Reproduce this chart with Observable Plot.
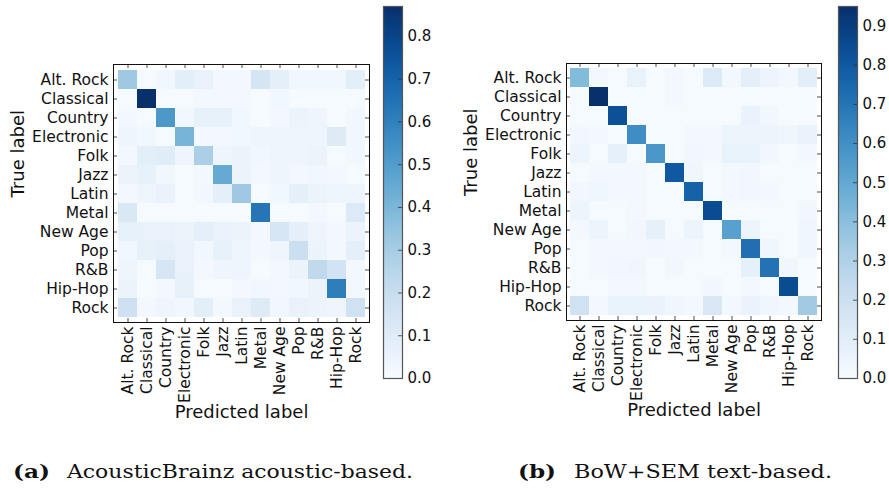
<!DOCTYPE html>
<html><head><meta charset="utf-8">
<script src="https://cdn.jsdelivr.net/npm/d3@7"></script>
<script src="https://cdn.jsdelivr.net/npm/@observablehq/plot@0.6"></script>
<style>
body{margin:0;background:#fff;}
#root{position:relative;width:889px;height:488px;overflow:hidden;background:#fff;}
.abs{position:absolute;top:0;}
.cap{position:absolute;font-family:"DejaVu Serif";font-size:19px;line-height:20px;color:#111;white-space:nowrap;display:inline-block;transform-origin:0 0;}
</style></head><body><div id="root"></div>
<script>
const genres = ["Alt. Rock","Classical","Country","Electronic","Folk","Jazz","Latin","Metal","New Age","Pop","R&B","Hip-Hop","Rock"];

const acoustic = [
  [0.32,0.01,0.03,0.09,0.06,0.02,0.02,0.15,0.08,0.03,0.03,0.03,0.09],
  [0.01,0.87,0.01,0.01,0.02,0.02,0.02,0.01,0.03,0.01,0.01,0.01,0.01],
  [0.02,0.01,0.52,0.03,0.07,0.07,0.03,0.01,0.02,0.05,0.04,0.01,0.03],
  [0.04,0.03,0.01,0.41,0.02,0.02,0.03,0.04,0.04,0.04,0.04,0.11,0.03],
  [0.02,0.09,0.10,0.04,0.29,0.04,0.05,0.03,0.04,0.04,0.05,0.01,0.03],
  [0.05,0.07,0.03,0.01,0.02,0.45,0.05,0.02,0.04,0.02,0.03,0.02,0.01],
  [0.02,0.04,0.06,0.01,0.03,0.08,0.32,0.01,0.03,0.08,0.05,0.04,0.04],
  [0.13,0.01,0.01,0.01,0.01,0.01,0.01,0.64,0.01,0.01,0.02,0.01,0.12],
  [0.07,0.06,0.06,0.05,0.08,0.06,0.05,0.02,0.14,0.08,0.04,0.02,0.05],
  [0.03,0.07,0.08,0.06,0.03,0.07,0.04,0.02,0.04,0.19,0.05,0.02,0.08],
  [0.04,0.01,0.14,0.06,0.02,0.04,0.04,0.01,0.02,0.05,0.23,0.16,0.02],
  [0.05,0.01,0.02,0.07,0.01,0.01,0.02,0.03,0.02,0.03,0.05,0.61,0.02],
  [0.18,0.02,0.04,0.03,0.09,0.02,0.06,0.11,0.03,0.06,0.05,0.04,0.17]
];

const textBased = [
  [0.42,0.02,0.01,0.07,0.01,0.02,0.01,0.13,0.02,0.09,0.05,0.02,0.10],
  [0.01,0.95,0.01,0.01,0.01,0.02,0.01,0.01,0.01,0.01,0.01,0.01,0.01],
  [0.01,0.01,0.83,0.01,0.01,0.01,0.01,0.01,0.01,0.06,0.03,0.01,0.01],
  [0.03,0.02,0.01,0.61,0.01,0.01,0.02,0.02,0.05,0.05,0.05,0.04,0.06],
  [0.05,0.01,0.08,0.01,0.57,0.01,0.03,0.02,0.07,0.07,0.03,0.01,0.02],
  [0.01,0.02,0.02,0.02,0.01,0.80,0.04,0.01,0.02,0.03,0.01,0.01,0.01],
  [0.03,0.04,0.02,0.02,0.01,0.01,0.77,0.01,0.02,0.03,0.02,0.01,0.01],
  [0.05,0.01,0.01,0.02,0.01,0.01,0.01,0.85,0.01,0.01,0.01,0.01,0.03],
  [0.02,0.05,0.01,0.03,0.08,0.01,0.05,0.01,0.53,0.05,0.01,0.01,0.04],
  [0.01,0.02,0.02,0.02,0.03,0.02,0.02,0.01,0.02,0.72,0.04,0.01,0.04],
  [0.01,0.02,0.03,0.04,0.01,0.03,0.01,0.01,0.01,0.08,0.71,0.04,0.01],
  [0.01,0.01,0.02,0.02,0.01,0.01,0.01,0.03,0.01,0.02,0.01,0.85,0.01],
  [0.19,0.02,0.07,0.07,0.06,0.04,0.02,0.14,0.02,0.06,0.04,0.02,0.34]
];

const acousticTicks = [0.0,0.1,0.2,0.3,0.4,0.5,0.6,0.7,0.8];
const textTicks = [0.0,0.1,0.2,0.3,0.4,0.5,0.6,0.7,0.8,0.9];
const captionA = ["(a)", "AcousticBrainz acoustic-based."];
const captionB = ["(b)", "BoW+SEM text-based."];

const baseStyle = {fontFamily: "DejaVu Sans", fontSize: "15.5px", color: "#111", background: "transparent", overflow: "visible", maxWidth: "none"};

function matrix(rows, {width, height, ml, mt, mr, mb}) {
  const data = rows.flatMap((r, i) => r.map((v, j) => ({truth: genres[i], pred: genres[j], v})));
  const max = d3.max(data, d => d.v);
  const W = width - ml - mr, H = height - mt - mb, t = 4;
  return Plot.plot({
    width, height, marginLeft: ml, marginTop: mt, marginRight: mr, marginBottom: mb,
    style: baseStyle,
    x: {type: "band", domain: genres, padding: 0},
    y: {type: "band", domain: genres, padding: 0},
    color: {type: "linear", domain: [0, max], scheme: "blues"},
    marks: [
      Plot.cell(data, {x: "pred", y: "truth", fill: "v"}),
      Plot.ruleX(genres, {x: d => d, insetBottom: H - t, stroke: "#222", strokeWidth: 0.8}),
      Plot.ruleX(genres, {x: d => d, insetTop: H - t, stroke: "#222", strokeWidth: 0.8}),
      Plot.ruleY(genres, {y: d => d, insetRight: W - t, stroke: "#222", strokeWidth: 0.8}),
      Plot.ruleY(genres, {y: d => d, insetLeft: W - t, stroke: "#222", strokeWidth: 0.8}),
      Plot.frame({stroke: "#111", strokeWidth: 1}),
      Plot.axisX({anchor: "bottom", tickSize: 0, tickPadding: 4, tickRotate: -90, fontSize: 15.5, label: null}),
      Plot.axisY({anchor: "left", tickSize: 0, tickPadding: 5, fontSize: 15.5, label: null}),
      Plot.text(["Predicted label"], {text: d => d, frameAnchor: "bottom", dy: 90, fontSize: 18, lineAnchor: "middle"}),
      Plot.text(["True label"], {text: d => d, frameAnchor: "left", dx: -95, dy: 4, rotate: -90, fontSize: 18, lineAnchor: "middle"})
    ]
  });
}

function colorbar(rows, ticks, {width, height, ml, mt, mr, mb}) {
  const max = d3.max(rows.flat());
  const W = width - ml - mr;
  return Plot.plot({
    width, height, marginLeft: ml, marginTop: mt, marginRight: mr, marginBottom: mb,
    style: {...baseStyle, fontSize: "15px"},
    x: {domain: [0, 1], axis: null},
    y: {domain: [0, max], axis: null},
    color: {type: "linear", domain: [0, max], scheme: "blues"},
    marks: [
      Plot.raster({fill: (x, y) => y, x1: 0, x2: 1, y1: 0, y2: max, width: 1, height: 400}),
      Plot.ruleY(ticks, {y: d => d, insetLeft: W - 4, stroke: "#333", strokeWidth: 0.8}),
      Plot.frame({stroke: "#555", strokeWidth: 1.2}),
      Plot.axisY(ticks, {anchor: "right", tickSize: 0, tickPadding: 5, tickFormat: ".1f", fontSize: 15, label: null})
    ]
  });
}

const root = document.getElementById("root");
function place(node, left) {
  const d = document.createElement("div");
  d.className = "abs";
  d.style.left = left + "px";
  d.appendChild(node);
  root.appendChild(d);
}
place(matrix(acoustic, {width: 372, height: 430, ml: 113, mt: 64, mr: 3, mb: 108}), 0);
place(colorbar(acoustic, acousticTicks, {width: 70, height: 390, ml: 13, mt: 6, mr: 38, mb: 12}), 370);
place(matrix(textBased, {width: 380, height: 430, ml: 116, mt: 63, mr: 9, mb: 110}), 450);
place(colorbar(textBased, textTicks, {width: 70, height: 390, ml: 13, mt: 6, mr: 38, mb: 12}), 825);

// caption pieces fitted to the reference's horizontal extents
function piece(str, bold, left, target) {
  const s = document.createElement("span");
  s.className = "cap";
  s.style.left = left + "px";
  s.style.top = "461px";
  if (bold) s.style.fontWeight = "bold";
  s.textContent = str;
  root.appendChild(s);
  const w = s.getBoundingClientRect().width;
  s.style.transform = `scaleX(${target / w})`;
}
piece(captionA[0], true, 13, 37);
piece(captionA[1], false, 67, 346);
piece(captionB[0], true, 518, 38);
piece(captionB[1], false, 574, 258);
</script></body></html>
